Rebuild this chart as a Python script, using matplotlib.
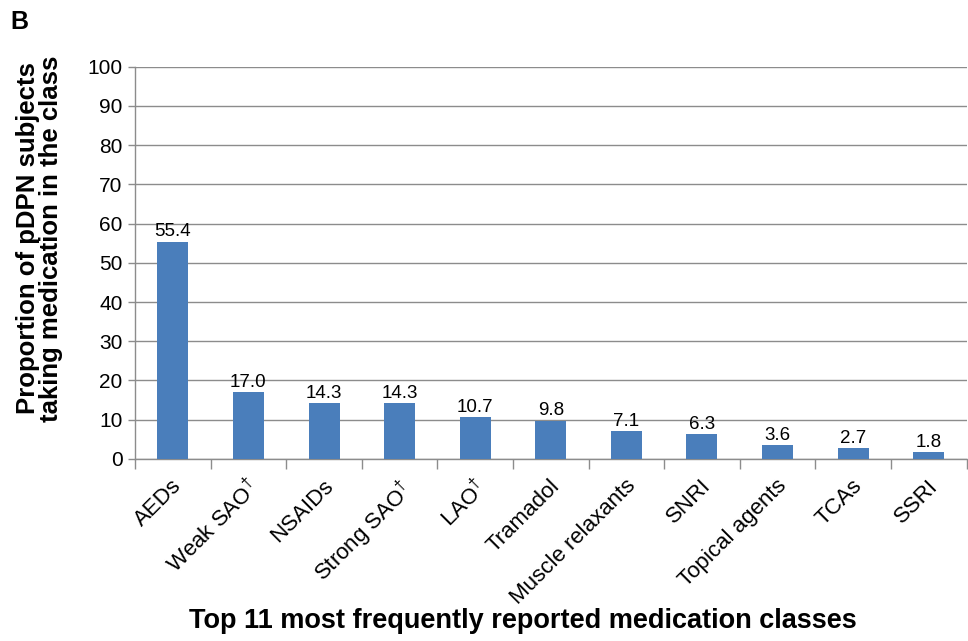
import matplotlib
matplotlib.use("Agg")
import matplotlib.pyplot as plt
import numpy as np

categories = ["AEDs", r"Weak SAO$^{\dagger}$", "NSAIDs", r"Strong SAO$^{\dagger}$",
              r"LAO$^{\dagger}$", "Tramadol", "Muscle relaxants", "SNRI",
              "Topical agents", "TCAs", "SSRI"]
values = [55.4, 17.0, 14.3, 14.3, 10.7, 9.8, 7.1, 6.3, 3.6, 2.7, 1.8]
yticks = list(range(0, 101, 10))

plt.rcParams["font.family"] = ["Liberation Sans", "DejaVu Sans"]
plt.rcParams["mathtext.fontset"] = "custom"
plt.rcParams["mathtext.rm"] = "Liberation Sans"

fig = plt.figure(figsize=(9.68, 6.41), dpi=100)
ax = fig.add_axes([0.1395, 0.284, 0.859, 0.612])

x = np.arange(len(categories))
bar_color = "#4A7EBB"
grid_color = "#8C8C8C"

ax.bar(x, values, width=0.41, color=bar_color, zorder=3)
for xi, v in zip(x, values):
    ax.text(xi, v + 0.3, f"{v:.1f}", ha="center", va="bottom", fontsize=13.5, color="black", zorder=4)

ax.set_xlim(-0.5, len(categories) - 0.5)
ax.set_ylim(0, 100)
ax.set_yticks(yticks)
ax.set_yticklabels([str(t) for t in yticks], fontsize=15)
ax.yaxis.grid(True, color=grid_color, linewidth=1.0, zorder=0)
ax.set_axisbelow(True)

# Category separators as ticks on the x-axis
ax.set_xticks(np.arange(-0.5, len(categories), 1.0))
ax.set_xticklabels([])
ax.tick_params(axis="x", length=7, width=1.0, color=grid_color, direction="out")
ax.tick_params(axis="y", length=5, width=1.0, color=grid_color, direction="out", pad=4)

for xi, lab in zip(x, categories):
    ax.text(xi - 0.02, -4.2, lab, rotation=45, ha="right", va="top",
            rotation_mode="anchor", fontsize=16, transform=ax.transData)

for side in ["top", "right"]:
    ax.spines[side].set_visible(False)
for side in ["left", "bottom"]:
    ax.spines[side].set_color(grid_color)
    ax.spines[side].set_linewidth(1.0)

fig.text(0.0405, 0.628, "Proportion of pDPN subjects\ntaking medication in the class",
         rotation=90, ha="center", va="center", fontsize=18.5, fontweight="bold",
         linespacing=0.95)
fig.text(0.54, 0.031, "Top 11 most frequently reported medication classes",
         ha="center", va="center", fontsize=19.5, fontweight="bold")
fig.text(0.011, 0.965, "B", ha="left", va="center", fontsize=18, fontweight="bold")

fig.savefig("out.png", dpi=100)
